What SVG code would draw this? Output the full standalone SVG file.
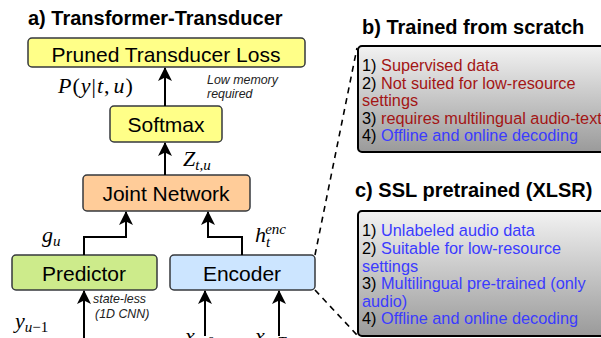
<svg xmlns="http://www.w3.org/2000/svg" width="601" height="338" viewBox="0 0 601 338">
<defs>
<linearGradient id="gray" x1="0" y1="0" x2="0" y2="1">
<stop offset="0" stop-color="#f2f2f2"/>
<stop offset="1" stop-color="#9a9a9a"/>
</linearGradient>
<marker id="arr" viewBox="0 0 14 14" refX="13" refY="7" markerWidth="14" markerHeight="14" markerUnits="userSpaceOnUse" orient="auto">
<path d="M0,0 L14,7 L0,14 L3.5,7 z" fill="#000"/>
</marker>
</defs>
<style>
.box{stroke:#36393d;stroke-width:1.5}
.lbl{font-family:"Liberation Sans",Arial,sans-serif;font-size:21px;fill:#000;text-anchor:middle}
.title{font-family:"Liberation Sans",Arial,sans-serif;font-size:20px;font-weight:bold;fill:#000}
.body{font-family:"Liberation Sans",Arial,sans-serif;font-size:16.3px;fill:#000}
.red{fill:#a31515}
.blue{fill:#3b3bff}
.note{font-family:"Liberation Sans",Arial,sans-serif;font-size:12.4px;font-style:italic;fill:#222}
.math{font-family:"Liberation Serif","Times New Roman",serif;font-size:22px;fill:#000}
.mi{font-style:italic}
.conn{stroke:#000;stroke-width:2;fill:none}
.dash{stroke:#000;stroke-width:1.6;fill:none;stroke-dasharray:6 5}
.panel{fill:url(#gray);stroke:#000;stroke-width:2}
</style>

<text class="title" x="28" y="25">a) Transformer-Transducer</text>

<g id="loss">
<rect class="box" x="28" y="38" width="277" height="29" rx="4" fill="#ffff88"/>
<text class="lbl" x="166" y="61.5">Pruned Transducer Loss</text>
</g>
<g id="softmax">
<rect class="box" x="110" y="106" width="112" height="36" rx="4" fill="#ffff88"/>
<text class="lbl" x="166" y="131.5">Softmax</text>
</g>
<g id="joint">
<rect class="box" x="83" y="175" width="167" height="36" rx="4" fill="#ffcc99"/>
<text class="lbl" x="166" y="200.5">Joint Network</text>
</g>
<g id="predictor">
<rect class="box" x="12" y="255" width="145" height="35" rx="4" fill="#cdeb8b"/>
<text class="lbl" x="84" y="280.5">Predictor</text>
</g>
<g id="encoder">
<rect class="box" x="170" y="255" width="145" height="35" rx="4" fill="#cce5ff"/>
<text class="lbl" x="242" y="280.5">Encoder</text>
</g>

<g id="connectors">
<path class="conn" d="M165,106 L165,68" marker-end="url(#arr)"/>
<path class="conn" d="M165,175 L165,143" marker-end="url(#arr)"/>
<path class="conn" d="M84,255 L84,237 L126,237 L126,212" marker-end="url(#arr)"/>
<path class="conn" d="M242,255 L242,237 L208,237 L208,212" marker-end="url(#arr)"/>
<path class="conn" d="M84,338 L84,291" marker-end="url(#arr)"/>
<path class="conn" d="M205,336 L205,291" marker-end="url(#arr)"/>
<path class="conn" d="M279,336 L279,291" marker-end="url(#arr)"/>
<path class="dash" d="M315,255 L357,48"/>
<path class="dash" d="M315,290 L357,335"/>
</g>

<text class="math" x="58" y="93" font-size="23" letter-spacing="1"><tspan class="mi">P</tspan>(<tspan class="mi">y</tspan>|<tspan class="mi">t</tspan>,<tspan dx="3" class="mi">u</tspan>)</text>
<text class="note" x="207" y="84">Low memory</text>
<text class="note" x="207" y="98">required</text>
<text class="math" x="183" y="166"><tspan class="mi">Z</tspan><tspan class="mi" font-size="15" dy="4">t,u</tspan></text>
<text class="math" x="42" y="242"><tspan class="mi">g</tspan><tspan class="mi" font-size="15" dy="4">u</tspan></text>
<text class="math" x="255" y="242"><tspan class="mi">h</tspan><tspan class="mi" font-size="15" dy="5">t</tspan><tspan class="mi" font-size="15" dx="-5" dy="-13">enc</tspan></text>
<text class="note" x="93" y="303" font-size="14">state-less</text>
<text class="note" x="95" y="318" font-size="14">(1D CNN)</text>
<text class="math" x="15" y="328"><tspan class="mi">y</tspan><tspan class="mi" font-size="15" dy="4">u</tspan><tspan font-size="15">−1</tspan></text>
<text class="math" x="185" y="343"><tspan class="mi">x</tspan><tspan class="mi" font-size="15" dy="4">t</tspan><tspan font-size="15">=0</tspan></text>
<text class="math" x="255" y="343"><tspan class="mi">x</tspan><tspan class="mi" font-size="15" dy="4">t</tspan><tspan font-size="15">=</tspan><tspan class="mi" font-size="15">T</tspan></text>

<text class="title" x="362" y="34">b) Trained from scratch</text>
<g id="scratch">
<rect class="panel" x="358" y="46" width="270" height="106" rx="4"/>
<text class="body" x="362" y="71">1) <tspan class="red">Supervised data</tspan></text>
<text class="body" x="362" y="88.5">2) <tspan class="red">Not suited for low-resource</tspan></text>
<text class="body red" x="362" y="106">settings</text>
<text class="body" x="362" y="123.5">3) <tspan class="red">requires multilingual audio-text</tspan></text>
<text class="body" x="362" y="141">4) <tspan class="blue">Offline and online decoding</tspan></text>
</g>

<text class="title" x="355" y="197">c) SSL pretrained (XLSR)</text>
<g id="ssl">
<rect class="panel" x="358" y="211" width="270" height="125" rx="4"/>
<text class="body" x="362" y="236">1) <tspan class="blue">Unlabeled audio data</tspan></text>
<text class="body" x="362" y="254">2) <tspan class="blue">Suitable for low-resource</tspan></text>
<text class="body blue" x="362" y="271.5">settings</text>
<text class="body" x="362" y="289">3) <tspan class="blue">Multilingual pre-trained (only</tspan></text>
<text class="body blue" x="362" y="306.5">audio)</text>
<text class="body" x="362" y="324">4) <tspan class="blue">Offline and online decoding</tspan></text>
</g>
</svg>
